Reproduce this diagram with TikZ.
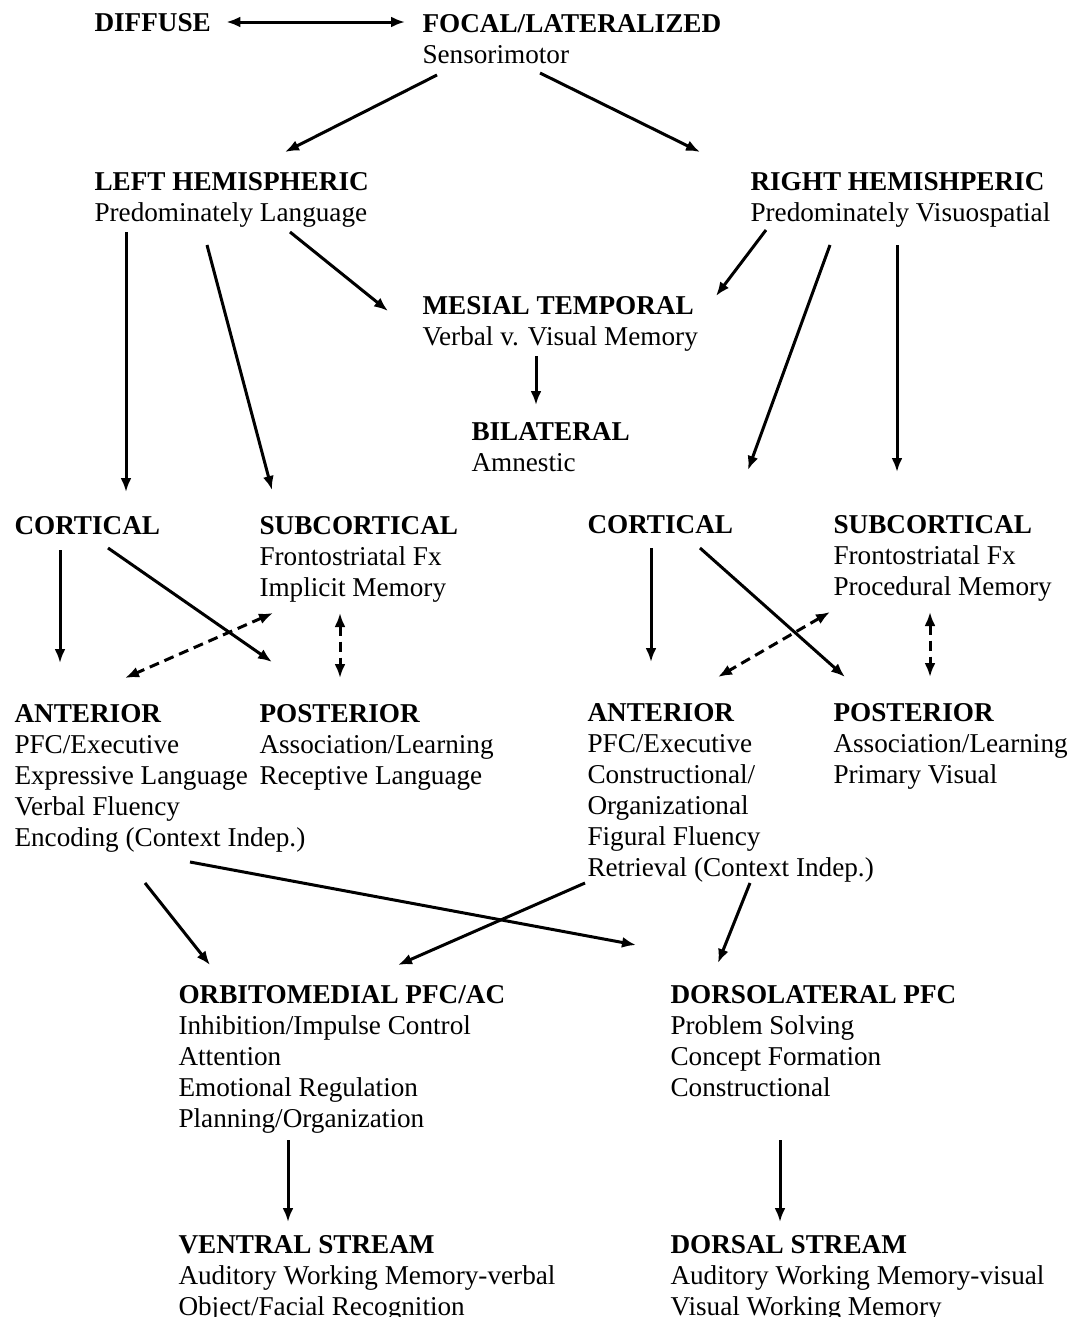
\documentclass[tikz,border=0pt]{standalone}
\usepackage{fontspec}
\setmainfont{Liberation Serif}
\usetikzlibrary{arrows.meta}

\begin{document}
\begin{tikzpicture}[x=0.5pt,y=-0.5pt,->,>={Latex[length=7pt,width=5.5pt]},line width=1.5pt,
    every node/.style={inner sep=0pt,anchor=base west,align=left,
        font=\fontsize{13.6pt}{15.5pt}\selectfont},
    both/.style={<->,dashed,dash pattern=on 5pt off 3pt}]
    %    nodes sit on the baseline of their last line
        \useasboundingbox (0,0) rectangle (1069,1317);

        \node (Diffuse)  at (93,32)  {\textbf{DIFFUSE}};
        \node (Focal)    at (421,63) {\textbf{FOCAL/LATERALIZED}\\Sensorimotor};
        \node (LeftHem)  at (93,221) {\textbf{LEFT HEMISPHERIC}\\Predominately Language};
        \node (RightHem) at (749,221) {\textbf{RIGHT HEMISHPERIC}\\Predominately Visuospatial};
        \node (Mesial)   at (421,345) {\textbf{MESIAL TEMPORAL}\\Verbal v. Visual Memory};
        \node (Bilat)    at (470,471) {\textbf{BILATERAL}\\Amnestic};

        \node (CortL) at (13,534)  {\textbf{CORTICAL}};
        \node (SubL)  at (258,596) {\textbf{SUBCORTICAL}\\Frontostriatal Fx\\Implicit Memory};
        \node (CortR) at (586,533) {\textbf{CORTICAL}};
        \node (SubR)  at (832,595) {\textbf{SUBCORTICAL}\\Frontostriatal Fx\\Procedural Memory};

        \node (AntL)  at (13,846)  {\textbf{ANTERIOR}\\PFC/Executive\\Expressive Language\\Verbal Fluency\\Encoding (Context Indep.)};
        \node (PostL) at (258,784) {\textbf{POSTERIOR}\\Association/Learning\\Receptive Language};
        \node (AntR)  at (586,876) {\textbf{ANTERIOR}\\PFC/Executive\\Constructional/\\Organizational\\Figural Fluency\\Retrieval (Context Indep.)};
        \node (PostR) at (832,783) {\textbf{POSTERIOR}\\Association/Learning\\Primary Visual};

        \node (Orbito) at (177,1127) {\textbf{ORBITOMEDIAL PFC/AC}\\Inhibition/Impulse Control\\Attention\\Emotional Regulation\\Planning/Organization};
        \node (Dorso)  at (669,1096) {\textbf{DORSOLATERAL PFC}\\Problem Solving\\Concept Formation\\Constructional};
        \node (Ventral) at (177,1315) {\textbf{VENTRAL STREAM}\\Auditory Working Memory-verbal\\Object/Facial Recognition};
        \node (Dorsal)  at (669,1315) {\textbf{DORSAL STREAM}\\Auditory Working Memory-visual\\Visual Working Memory};

        % top
        \draw[<->] ([shift={(14,-10)}]Diffuse.base east) -- ([shift={(-16,-41)}]Focal.base west);
        \path ([shift={(16,12)}]Focal.base west) edge ([shift={(192,-69)}]LeftHem.base west)
              ([shift={(119,10)}]Focal.base west) edge ([shift={(-49,-69)}]RightHem.base west);

        % hemispheres
        \path ([shift={(197,11)}]LeftHem.base west) edge ([shift={(-33,-34)}]Mesial.base west)
              ([shift={(17,9)}]RightHem.base west) edge ([shift={(295,-49)}]Mesial.base west)
              ([shift={(33,11)}]LeftHem.base west)  edge ([shift={(113,-42)}]CortL.base west)
              ([shift={(114,24)}]LeftHem.base west) edge ([shift={(14,-106)}]SubL.base west)
              ([shift={(81,24)}]RightHem.base west) edge ([shift={(162,-63)}]CortR.base west)
              ([shift={(148,24)}]RightHem.base west) edge ([shift={(65,-123)}]SubR.base west)
              ([shift={(115,11)}]Mesial.base west)  edge ([shift={(66,-66)}]Bilat.base west);

        % cortical / subcortical
        \path ([shift={(47,16)}]CortL.base west) edge ([shift={(47,-183)}]AntL.base west)
              ([shift={(95,14)}]CortL.base west) edge ([shift={(14,-122)}]PostL.base west)
              ([shift={(65,15)}]CortR.base west) edge ([shift={(65,-214)}]AntR.base west)
              ([shift={(114,15)}]CortR.base west) edge ([shift={(13,-106)}]PostR.base west);
        \draw[both] ([shift={(15,17)}]SubL.base west) -- ([shift={(112,-168)}]AntL.base west);
        \draw[both] ([shift={(82,17)}]SubL.base west) -- ([shift={(82,-106)}]PostL.base west);
        \draw[both] ([shift={(-2,17)}]SubR.base west) -- ([shift={(132,-199)}]AntR.base west);
        \draw[both] ([shift={(98,17)}]SubR.base west) -- ([shift={(98,-106)}]PostR.base west);

        % prefrontal
        \path ([shift={(132,37)}]AntL.base west) edge ([shift={(33,-162)}]Orbito.base west)
              ([shift={(177,16)}]AntL.base west) edge ([shift={(-33,-151)}]Dorso.base west)
              ([shift={(-1,7)}]AntR.base west)  edge ([shift={(221,-162)}]Orbito.base west)
              ([shift={(164,7)}]AntR.base west) edge ([shift={(49,-133)}]Dorso.base west)
              ([shift={(111,13)}]Orbito.base west) edge ([shift={(111,-93)}]Ventral.base west)
              ([shift={(111,44)}]Dorso.base west)  edge ([shift={(111,-93)}]Dorsal.base west);
\end{tikzpicture}
\end{document}
